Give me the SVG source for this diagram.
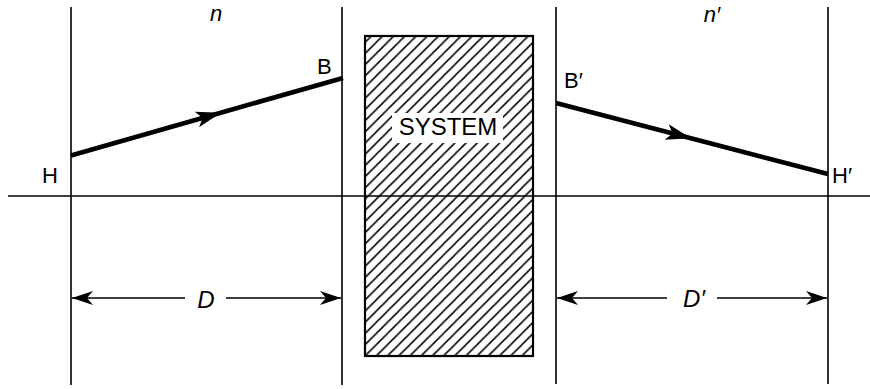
<svg xmlns="http://www.w3.org/2000/svg" width="870" height="389" viewBox="0 0 870 389">
<style>
.ln{stroke:#000;stroke-width:1.6;fill:none}
.ray{stroke:#000;stroke-width:4.6;fill:none;stroke-linecap:butt}
.dim{stroke:#000;stroke-width:1.6;fill:none}
.lbl{font-family:"Liberation Sans",Arial,sans-serif;font-size:22px;fill:#000}
.it{font-style:italic}
</style>
<defs>
<pattern id="hatch" patternUnits="userSpaceOnUse" x="365" y="356" width="11.2" height="11.2">
<path d="M-1,1 L1,-1 M0,11.2 L11.2,0 M10.2,12.2 L12.2,10.2" stroke="#000" stroke-width="1.5"/>
</pattern>
<marker id="rayArrow" markerUnits="userSpaceOnUse" viewBox="-26 -10 28 20" markerWidth="28" markerHeight="20" refX="0" refY="0" orient="auto">
<path d="M2,0 L-23,-8 L-17,0 L-23,8 Z" fill="#000"/>
</marker>
<marker id="dimArrow" markerUnits="userSpaceOnUse" viewBox="-22 -8 24 16" markerWidth="24" markerHeight="16" refX="0" refY="0" orient="auto-start-reverse">
<path d="M0,0 L-21,-7 L-15,0 L-21,7 Z" fill="#000"/>
</marker>
</defs>

<g id="axis">
<line class="ln" x1="8" y1="196" x2="870" y2="196"/>
</g>

<g id="system">
<rect x="365" y="36" width="168" height="320" fill="url(#hatch)" stroke="#000" stroke-width="2.2"/>
<rect x="392" y="113" width="111" height="30" fill="#fff"/>
<text class="lbl" x="448" y="135" text-anchor="middle" style="font-size:24px">SYSTEM</text>
</g>

<g id="plane-H">
<line class="ln" x1="71" y1="7" x2="71" y2="385"/>
<text class="lbl" x="42" y="183">H</text>
</g>
<g id="plane-B">
<line class="ln" x1="342" y1="7" x2="342" y2="385"/>
<text class="lbl" x="317" y="74">B</text>
</g>
<g id="plane-Bp">
<line class="ln" x1="556" y1="7" x2="556" y2="384"/>
<text class="lbl" x="564" y="88">B′</text>
</g>
<g id="plane-Hp">
<line class="ln" x1="828" y1="7" x2="828" y2="384"/>
<text class="lbl" x="832" y="183">H′</text>
</g>

<g id="medium-labels">
<text class="lbl it" x="216" y="21" text-anchor="middle">n</text>
<text class="lbl it" x="712" y="22" text-anchor="middle">n′</text>
</g>

<g id="connectors">
<path class="ray" d="M71,155.5 L219,113.2 L343,78" marker-mid="url(#rayArrow)"/>
<path class="ray" d="M556,103 L689,137.7 L828,174" marker-mid="url(#rayArrow)"/>
<line class="dim" x1="72" y1="298" x2="185" y2="298" marker-start="url(#dimArrow)"/>
<line class="dim" x1="226" y1="298" x2="341" y2="298" marker-end="url(#dimArrow)"/>
<line class="dim" x1="557" y1="298" x2="667" y2="298" marker-start="url(#dimArrow)"/>
<line class="dim" x1="717" y1="298" x2="827" y2="298" marker-end="url(#dimArrow)"/>
<text class="lbl it" x="206" y="308" text-anchor="middle" style="font-size:24px">D</text>
<text class="lbl it" x="694" y="307" text-anchor="middle" style="font-size:24px">D′</text>
</g>
</svg>
